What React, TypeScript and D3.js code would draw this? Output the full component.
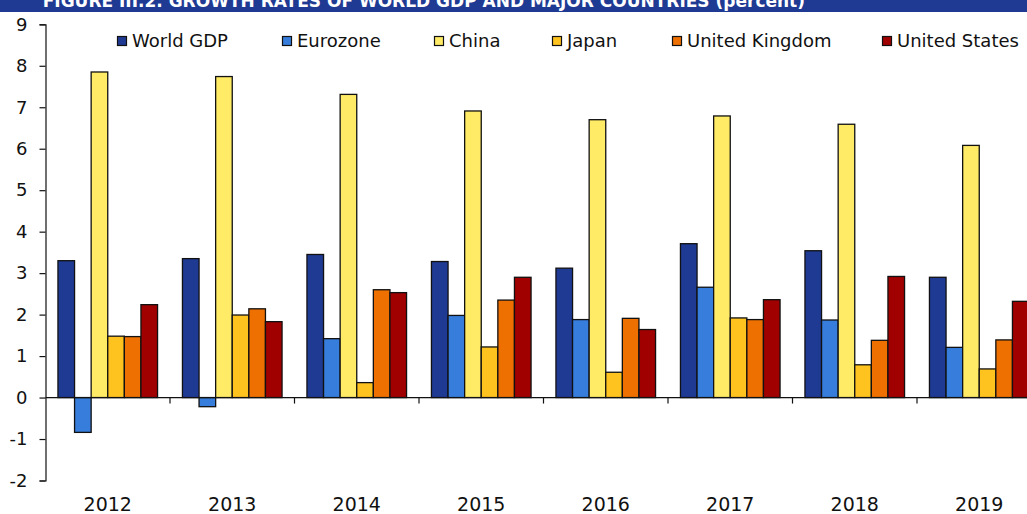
import React, { useEffect, useRef } from "react";
import * as d3 from "d3";

const years = ["2012", "2013", "2014", "2015", "2016", "2017", "2018", "2019"];
const seriesNames = ["World GDP", "Eurozone", "China", "Japan", "United Kingdom", "United States"];
const worldGdp = [3.3, 3.35, 3.45, 3.28, 3.12, 3.71, 3.54, 2.9];
const eurozone = [-0.84, -0.22, 1.42, 1.98, 1.88, 2.66, 1.87, 1.21];
const china = [7.85, 7.74, 7.31, 6.91, 6.7, 6.79, 6.59, 6.08];
const japan = [1.48, 1.99, 0.36, 1.22, 0.61, 1.92, 0.79, 0.69];
const unitedKingdom = [1.47, 2.14, 2.6, 2.35, 1.91, 1.88, 1.38, 1.39];
const unitedStates = [2.24, 1.83, 2.53, 2.9, 1.64, 2.36, 2.92, 2.32];
const yTicks = [-2, -1, 0, 1, 2, 3, 4, 5, 6, 7, 8, 9];
const colors = ["#1f3a93", "#377ddb", "#ffeb66", "#ffc31f", "#ee7000", "#a00000"];
const legendX = [117, 282, 434, 552, 672, 882];

const W = 1027,
  H = 514;

function drawChart(el: SVGSVGElement) {
  const svg = d3.select(el);
  svg.selectAll("*").remove();

  const values = [worldGdp, eurozone, china, japan, unitedKingdom, unitedStates];
  const font = "DejaVu Sans, sans-serif";

  const left = 45.5;
  const groupW = 124.5;

  // title strip, cut off at the top like the source
  svg.append("rect").attr("x", 0).attr("y", 0).attr("width", W).attr("height", 12).attr("fill", "#1f3a93");
  svg
    .append("text")
    .attr("x", 805)
    .attr("y", 7)
    .attr("text-anchor", "end")
    .attr("fill", "#ffffff")
    .style("font-family", font)
    .style("font-weight", "bold")
    .style("font-size", "17px")
    .text("FIGURE III.2. GROWTH RATES OF WORLD GDP AND MAJOR COUNTRIES (percent)");

  const y = d3.scaleLinear().domain([-2, 9]).range([480.5, 24.3]);
  const x0 = d3
    .scaleBand()
    .domain(years)
    .range([left, left + groupW * years.length])
    .paddingInner(0)
    .paddingOuter(0);
  const x1 = d3
    .scaleBand()
    .domain(seriesNames)
    .range([0, x0.bandwidth()])
    .paddingInner(0)
    .paddingOuter(0.75);

  // bars
  seriesNames.forEach((name, si) => {
    svg
      .append("g")
      .selectAll("rect")
      .data(years)
      .join("rect")
      .attr("x", (d) => (x0(d) as number) + (x1(name) as number))
      .attr("y", (d, i) => y(Math.max(0, values[si][i])))
      .attr("width", x1.bandwidth())
      .attr("height", (d, i) => Math.abs(y(values[si][i]) - y(0)))
      .attr("fill", colors[si])
      .attr("stroke", "#111111")
      .attr("stroke-width", 1.3);
  });

  // y axis
  const yAxis = svg
    .append("g")
    .attr("transform", "translate(" + left + ",0)")
    .call(
      d3
        .axisLeft(y)
        .tickValues(yTicks)
        .tickFormat((d) => String(d))
        .tickSizeInner(6)
        .tickSizeOuter(6)
        .tickPadding(12)
    );
  yAxis.select("path").attr("stroke", "#111111").attr("stroke-width", 1.2);
  yAxis.selectAll(".tick line").attr("stroke", "#111111").attr("stroke-width", 1.2);
  yAxis
    .selectAll(".tick text")
    .attr("fill", "#111111")
    .style("font-family", font)
    .style("font-size", "18px");

  // zero line + category ticks
  svg
    .append("line")
    .attr("x1", left)
    .attr("x2", W)
    .attr("y1", y(0))
    .attr("y2", y(0))
    .attr("stroke", "#111111")
    .attr("stroke-width", 1.2);
  svg
    .append("g")
    .selectAll("line")
    .data(years.slice(1))
    .join("line")
    .attr("x1", (d) => x0(d) as number)
    .attr("x2", (d) => x0(d) as number)
    .attr("y1", y(0))
    .attr("y2", y(0) + 6)
    .attr("stroke", "#111111")
    .attr("stroke-width", 1.2);

  // year labels
  svg
    .append("g")
    .selectAll("text")
    .data(years)
    .join("text")
    .attr("x", (d) => (x0(d) as number) + x0.bandwidth() / 2)
    .attr("y", 511)
    .attr("text-anchor", "middle")
    .attr("fill", "#111111")
    .style("font-family", font)
    .style("font-size", "19px")
    .text((d) => d);

  // legend
  const legend = svg
    .append("g")
    .selectAll("g")
    .data(seriesNames)
    .join("g")
    .attr("transform", (d, i) => "translate(" + legendX[i] + ",0)");
  legend
    .append("rect")
    .attr("x", 0.5)
    .attr("y", 36.5)
    .attr("width", 9)
    .attr("height", 9)
    .attr("fill", (d, i) => colors[i])
    .attr("stroke", "#111111")
    .attr("stroke-width", 1.2);
  legend
    .append("text")
    .attr("x", 15)
    .attr("y", 47)
    .attr("fill", "#111111")
    .style("font-family", font)
    .style("font-size", "18px")
    .text((d) => d);
}

export default function App() {
  const ref = useRef<SVGSVGElement>(null);
  useEffect(() => {
    if (ref.current) drawChart(ref.current);
  }, []);
  return (
    <svg
      ref={ref}
      width={W}
      height={H}
      style={{ position: "absolute", left: 0, top: 0, background: "#ffffff", display: "block" }}
    />
  );
}
